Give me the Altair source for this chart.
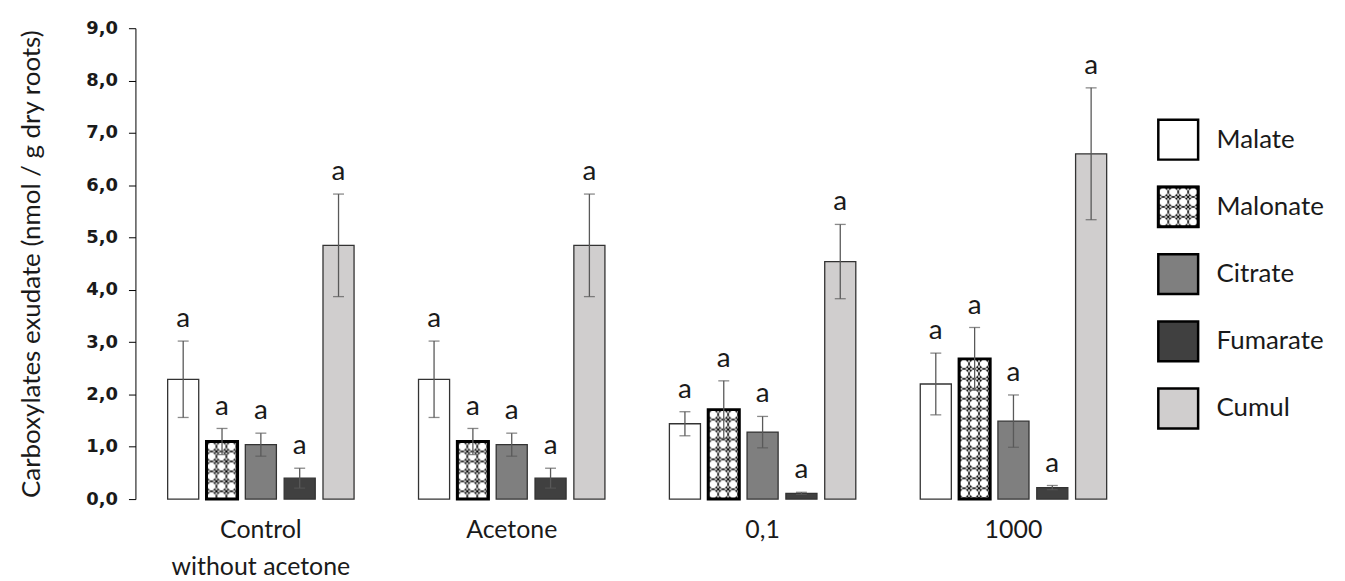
import base64
import altair as alt
import pandas as pd

# ---------------- data ----------------
groups = ["Control\nwithout acetone", "Acetone", "0,1", "1000"]
series = ["Malate", "Malonate", "Citrate", "Fumarate", "Cumul"]

malate = [2.29, 2.29, 1.44, 2.20]
malonate = [1.10, 1.10, 1.71, 2.68]
citrate = [1.04, 1.04, 1.28, 1.49]
fumarate = [0.40, 0.40, 0.11, 0.22]
cumul = [4.85, 4.85, 4.54, 6.60]

malate_err = [0.73, 0.73, 0.23, 0.59]
malonate_err = [0.25, 0.25, 0.55, 0.60]
citrate_err = [0.22, 0.22, 0.30, 0.50]
fumarate_err = [0.19, 0.19, 0.02, 0.04]
cumul_err = [0.98, 0.98, 0.71, 1.26]

letters = ["a"] * 20

y_ticks = [0, 1, 2, 3, 4, 5, 6, 7, 8, 9]
y_title = "Carboxylates exudate (nmol / g dry roots)"

fills = ["#ffffff", "#ffffff", "#7f7f7f", "#404040", "#d0cece"]

# ---------------- table ----------------
vals = [malate, malonate, citrate, fumarate, cumul]
errs = [malate_err, malonate_err, citrate_err, fumarate_err, cumul_err]
rows = []
k = 0
for gi, g in enumerate(groups):
    for si, s in enumerate(series):
        v = vals[si][gi]
        e = errs[si][gi]
        rows.append({"group": g, "series": s, "value": v, "lo": v - e, "hi": v + e,
                     "letter": letters[k]})
        k += 1
df = pd.DataFrame(rows)
legend_df = pd.DataFrame({"series": series})

# crosshatch texture for Malonate
svg = ("<svg xmlns='http://www.w3.org/2000/svg' width='100%' height='100%'>"
       "<defs><pattern id='h' width='10' height='10' patternUnits='userSpaceOnUse'>"
       "<rect width='10' height='10' fill='white'/>"
       "<circle cx='5' cy='5' r='4.6' fill='none' stroke='black' stroke-width='0.8'/>"
       "<path d='M0,0L2.3,2.3M10,0L7.7,2.3M0,10L2.3,7.7M10,10L7.7,7.7' stroke='black' stroke-width='1.2'/>"
       "</pattern></defs><rect width='100%' height='100%' fill='url(#h)'/></svg>")
hatch_url = "data:image/svg+xml;base64," + base64.b64encode(svg.encode()).decode()

FONT = "Lato"
TXT = "#1a1a1a"

xax = alt.Axis(title=None, labelAngle=0, domain=False, ticks=False, labelPadding=19,
               labelFontSize=25, labelFont=FONT, labelColor=TXT, labelLineHeight=37,
               labelExpr="split(datum.label, '\\n')")
xscale = alt.Scale(domain=groups, paddingInner=0.226, paddingOuter=0.113)
xoscale = alt.Scale(domain=series, paddingInner=0.2, paddingOuter=0.1)
yscale = alt.Scale(domain=[0, 9], nice=False)
yax = alt.Axis(values=y_ticks, labelExpr="replace(format(datum.value, '.1f'), '.', ',')",
               grid=False, tickSize=7, tickColor="#000000", domainColor="#000000",
               labelFont="DejaVu Sans", labelFontWeight="bold", labelFontSize=18,
               labelColor=TXT, labelPadding=11, titleFont=FONT, titleFontSize=26,
               titleFontWeight="normal", titleColor=TXT, titlePadding=38,
               minExtent=53, maxExtent=53)


def X():
    return alt.X("group:N", sort=groups, scale=xscale, axis=xax)


def XO():
    return alt.XOffset("series:N", sort=series, scale=xoscale)


def Y(field):
    return alt.Y(f"{field}:Q", scale=yscale, axis=yax, title=y_title)


base = alt.Chart(df)

bars = base.mark_bar(stroke="#333333", strokeWidth=1.3).encode(
    x=X(), xOffset=XO(), y=Y("value"),
    color=alt.Color("series:N", scale=alt.Scale(domain=series, range=fills), legend=None),
)
hatch = base.transform_filter("datum.series == 'Malonate'").mark_image(
    url=hatch_url, aspect=False
).encode(x=X(), xOffset=XO(), y=Y("value"), y2=alt.datum(0))
outline = base.transform_filter("datum.series == 'Malonate'").mark_bar(
    fillOpacity=0, stroke="#000000", strokeWidth=3
).encode(x=X(), xOffset=XO(), y=Y("value"))
rules = base.mark_rule(color="#595959", strokeWidth=1.3).encode(
    x=X(), xOffset=XO(), y=Y("lo"), y2="hi:Q")
cap_hi = base.mark_tick(color="#595959", thickness=1.3, size=11).encode(
    x=X(), xOffset=XO(), y=Y("hi"))
cap_lo = base.mark_tick(color="#595959", thickness=1.3, size=11).encode(
    x=X(), xOffset=XO(), y=Y("lo"))
labels = base.mark_text(font=FONT, fontSize=28, color=TXT, baseline="alphabetic", dy=-14).encode(
    x=X(), xOffset=XO(), y=Y("hi"), text="letter:N")

main = alt.layer(bars, hatch, outline, rules, cap_hi, cap_lo, labels).properties(
    width=1008, height=473)

# ---------------- legend ----------------
ly = alt.Y("series:N", sort=series,
           scale=alt.Scale(type="point", domain=series, range=[112, 382], padding=0),
           axis=None)
lbase = alt.Chart(legend_df)
leg_sq = lbase.mark_point(shape="square", size=1600, filled=True, stroke="#000000",
                          strokeWidth=2.5, opacity=1).encode(
    x=alt.value(21.5), y=ly,
    color=alt.Color("series:N", scale=alt.Scale(domain=series, range=fills), legend=None))
leg_img = lbase.transform_filter("datum.series == 'Malonate'").mark_image(
    url=hatch_url, width=40, height=40, aspect=False, align="center", baseline="middle"
).encode(x=alt.value(21.5), y=ly)
leg_out = lbase.transform_filter("datum.series == 'Malonate'").mark_point(
    shape="square", size=1600, filled=False, stroke="#000000", strokeWidth=3, opacity=1
).encode(x=alt.value(21.5), y=ly)
leg_txt = lbase.mark_text(align="left", font=FONT, fontSize=26, color=TXT).encode(
    x=alt.value(60), y=ly, text="series:N")
legend = alt.layer(leg_sq, leg_img, leg_out, leg_txt).properties(width=175, height=473)

chart = alt.hconcat(main, legend, spacing=12).properties(
    padding={"left": 10, "top": 9, "right": 5, "bottom": 5},
    background="white",
).configure_view(stroke="transparent")

chart.save("out.html", embed_options={"renderer": "svg", "actions": False})
